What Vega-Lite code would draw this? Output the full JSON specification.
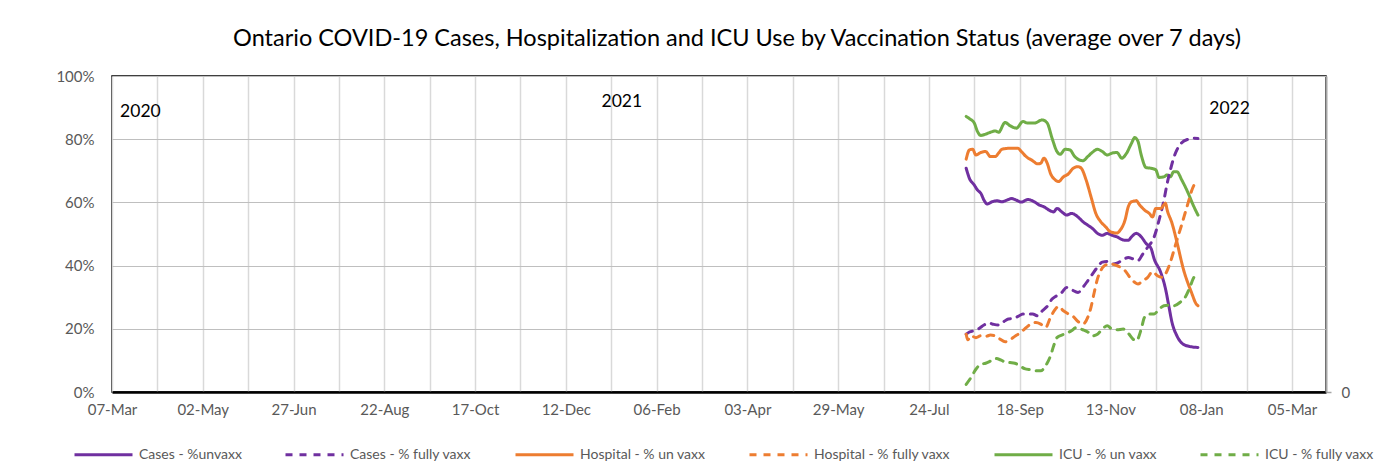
{
  "$schema": "https://vega.github.io/schema/vega-lite/v6.json",
  "width": 1214,
  "height": 316,
  "autosize": {"type": "none"},
  "padding": {"left": 112, "top": 76, "right": 59, "bottom": 79},
  "background": "white",
  "config": {
    "font": "Lato",
    "view": {"stroke": "#000000", "strokeWidth": 1.5},
    "axis": {"labelFont": "Lato", "labelColor": "#595959", "labelFontSize": 15, "title": null}
  },
  "title": {
    "text": "Ontario COVID-19 Cases, Hospitalization and ICU Use by Vaccination Status (average over 7 days)",
    "font": "Lato", "fontSize": 23.5, "fontWeight": "normal", "color": "#000000",
    "anchor": "middle", "frame": "group", "dx": 18, "offset": 19
  },
  "datasets": {
    "lines": [
      {"s":"ICU - % un vaxx","d":"2021-08-16","v":87.2},{"s":"ICU - % un vaxx","d":"2021-08-18","v":86.5},{"s":"ICU - % un vaxx","d":"2021-08-21","v":85.1},{"s":"ICU - % un vaxx","d":"2021-08-23","v":82.4},{"s":"ICU - % un vaxx","d":"2021-08-25","v":81.2},{"s":"ICU - % un vaxx","d":"2021-08-28","v":81.6},{"s":"ICU - % un vaxx","d":"2021-08-31","v":82.2},{"s":"ICU - % un vaxx","d":"2021-09-03","v":82.6},{"s":"ICU - % un vaxx","d":"2021-09-05","v":82.2},{"s":"ICU - % un vaxx","d":"2021-09-09","v":85.3},{"s":"ICU - % un vaxx","d":"2021-09-12","v":84.3},{"s":"ICU - % un vaxx","d":"2021-09-16","v":83.5},{"s":"ICU - % un vaxx","d":"2021-09-20","v":85.6},{"s":"ICU - % un vaxx","d":"2021-09-23","v":85.1},{"s":"ICU - % un vaxx","d":"2021-09-27","v":85.1},{"s":"ICU - % un vaxx","d":"2021-10-02","v":86.1},{"s":"ICU - % un vaxx","d":"2021-10-05","v":85.1},{"s":"ICU - % un vaxx","d":"2021-10-08","v":80.3},{"s":"ICU - % un vaxx","d":"2021-10-11","v":76.1},{"s":"ICU - % un vaxx","d":"2021-10-13","v":75.2},{"s":"ICU - % un vaxx","d":"2021-10-16","v":76.8},{"s":"ICU - % un vaxx","d":"2021-10-19","v":76.6},{"s":"ICU - % un vaxx","d":"2021-10-22","v":74.5},{"s":"ICU - % un vaxx","d":"2021-10-25","v":73.4},{"s":"ICU - % un vaxx","d":"2021-10-27","v":73.2},{"s":"ICU - % un vaxx","d":"2021-10-30","v":74.5},{"s":"ICU - % un vaxx","d":"2021-11-02","v":75.9},{"s":"ICU - % un vaxx","d":"2021-11-05","v":76.8},{"s":"ICU - % un vaxx","d":"2021-11-08","v":76.1},{"s":"ICU - % un vaxx","d":"2021-11-11","v":75},{"s":"ICU - % un vaxx","d":"2021-11-14","v":75.6},{"s":"ICU - % un vaxx","d":"2021-11-17","v":75.8},{"s":"ICU - % un vaxx","d":"2021-11-20","v":74},{"s":"ICU - % un vaxx","d":"2021-11-23","v":75.6},{"s":"ICU - % un vaxx","d":"2021-11-26","v":78.7},{"s":"ICU - % un vaxx","d":"2021-11-28","v":80.5},{"s":"ICU - % un vaxx","d":"2021-11-30","v":79.3},{"s":"ICU - % un vaxx","d":"2021-12-02","v":75},{"s":"ICU - % un vaxx","d":"2021-12-05","v":71},{"s":"ICU - % un vaxx","d":"2021-12-08","v":70.8},{"s":"ICU - % un vaxx","d":"2021-12-11","v":70.3},{"s":"ICU - % un vaxx","d":"2021-12-13","v":67.9},{"s":"ICU - % un vaxx","d":"2021-12-16","v":68.1},{"s":"ICU - % un vaxx","d":"2021-12-18","v":68.7},{"s":"ICU - % un vaxx","d":"2021-12-20","v":68.1},{"s":"ICU - % un vaxx","d":"2021-12-22","v":69.7},{"s":"ICU - % un vaxx","d":"2021-12-24","v":69.7},{"s":"ICU - % un vaxx","d":"2021-12-27","v":67.1},{"s":"ICU - % un vaxx","d":"2021-12-31","v":62.9},{"s":"ICU - % un vaxx","d":"2022-01-03","v":59.2},{"s":"ICU - % un vaxx","d":"2022-01-06","v":56},

      {"s":"Cases - %unvaxx","d":"2021-08-16","v":70.8},{"s":"Cases - %unvaxx","d":"2021-08-18","v":67.6},{"s":"Cases - %unvaxx","d":"2021-08-21","v":65.5},{"s":"Cases - %unvaxx","d":"2021-08-23","v":63.9},{"s":"Cases - %unvaxx","d":"2021-08-25","v":62.9},{"s":"Cases - %unvaxx","d":"2021-08-27","v":60.7},{"s":"Cases - %unvaxx","d":"2021-08-29","v":59.5},{"s":"Cases - %unvaxx","d":"2021-09-01","v":60.2},{"s":"Cases - %unvaxx","d":"2021-09-04","v":60.5},{"s":"Cases - %unvaxx","d":"2021-09-07","v":60.2},{"s":"Cases - %unvaxx","d":"2021-09-10","v":60.7},{"s":"Cases - %unvaxx","d":"2021-09-13","v":61.2},{"s":"Cases - %unvaxx","d":"2021-09-16","v":60.7},{"s":"Cases - %unvaxx","d":"2021-09-19","v":60.1},{"s":"Cases - %unvaxx","d":"2021-09-23","v":60.9},{"s":"Cases - %unvaxx","d":"2021-09-27","v":60.2},{"s":"Cases - %unvaxx","d":"2021-09-30","v":59.2},{"s":"Cases - %unvaxx","d":"2021-10-03","v":58.6},{"s":"Cases - %unvaxx","d":"2021-10-06","v":57.6},{"s":"Cases - %unvaxx","d":"2021-10-09","v":57},{"s":"Cases - %unvaxx","d":"2021-10-11","v":58.1},{"s":"Cases - %unvaxx","d":"2021-10-14","v":57},{"s":"Cases - %unvaxx","d":"2021-10-17","v":56},{"s":"Cases - %unvaxx","d":"2021-10-20","v":56.5},{"s":"Cases - %unvaxx","d":"2021-10-25","v":54.9},{"s":"Cases - %unvaxx","d":"2021-10-27","v":53.9},{"s":"Cases - %unvaxx","d":"2021-10-30","v":52.8},{"s":"Cases - %unvaxx","d":"2021-11-02","v":51.7},{"s":"Cases - %unvaxx","d":"2021-11-05","v":50.2},{"s":"Cases - %unvaxx","d":"2021-11-08","v":49.6},{"s":"Cases - %unvaxx","d":"2021-11-11","v":50.2},{"s":"Cases - %unvaxx","d":"2021-11-14","v":49.6},{"s":"Cases - %unvaxx","d":"2021-11-17","v":49.1},{"s":"Cases - %unvaxx","d":"2021-11-21","v":48.1},{"s":"Cases - %unvaxx","d":"2021-11-24","v":48},{"s":"Cases - %unvaxx","d":"2021-11-26","v":49.1},{"s":"Cases - %unvaxx","d":"2021-11-29","v":50.2},{"s":"Cases - %unvaxx","d":"2021-12-02","v":49.1},{"s":"Cases - %unvaxx","d":"2021-12-05","v":47},{"s":"Cases - %unvaxx","d":"2021-12-08","v":45.5},{"s":"Cases - %unvaxx","d":"2021-12-10","v":42.1},{"s":"Cases - %unvaxx","d":"2021-12-14","v":37.9},{"s":"Cases - %unvaxx","d":"2021-12-17","v":32.6},{"s":"Cases - %unvaxx","d":"2021-12-19","v":27.3},{"s":"Cases - %unvaxx","d":"2021-12-21","v":22},{"s":"Cases - %unvaxx","d":"2021-12-24","v":17.8},{"s":"Cases - %unvaxx","d":"2021-12-28","v":15.1},{"s":"Cases - %unvaxx","d":"2022-01-02","v":14.3},{"s":"Cases - %unvaxx","d":"2022-01-06","v":14.1},

      {"s":"Cases - % fully vaxx","d":"2021-08-16","v":18.3},{"s":"Cases - % fully vaxx","d":"2021-08-18","v":19},{"s":"Cases - % fully vaxx","d":"2021-08-21","v":19.4},{"s":"Cases - % fully vaxx","d":"2021-08-24","v":20.1},{"s":"Cases - % fully vaxx","d":"2021-08-27","v":21.2},{"s":"Cases - % fully vaxx","d":"2021-08-30","v":21.8},{"s":"Cases - % fully vaxx","d":"2021-09-02","v":21.4},{"s":"Cases - % fully vaxx","d":"2021-09-05","v":21.2},{"s":"Cases - % fully vaxx","d":"2021-09-08","v":22.2},{"s":"Cases - % fully vaxx","d":"2021-09-11","v":23.1},{"s":"Cases - % fully vaxx","d":"2021-09-14","v":23.3},{"s":"Cases - % fully vaxx","d":"2021-09-17","v":23.9},{"s":"Cases - % fully vaxx","d":"2021-09-20","v":24.7},{"s":"Cases - % fully vaxx","d":"2021-09-23","v":24.7},{"s":"Cases - % fully vaxx","d":"2021-09-26","v":24.7},{"s":"Cases - % fully vaxx","d":"2021-09-29","v":24.1},{"s":"Cases - % fully vaxx","d":"2021-10-02","v":25.7},{"s":"Cases - % fully vaxx","d":"2021-10-05","v":27.1},{"s":"Cases - % fully vaxx","d":"2021-10-08","v":29.4},{"s":"Cases - % fully vaxx","d":"2021-10-11","v":30.5},{"s":"Cases - % fully vaxx","d":"2021-10-14","v":31.5},{"s":"Cases - % fully vaxx","d":"2021-10-17","v":33.1},{"s":"Cases - % fully vaxx","d":"2021-10-20","v":32.4},{"s":"Cases - % fully vaxx","d":"2021-10-24","v":31.5},{"s":"Cases - % fully vaxx","d":"2021-10-27","v":33.1},{"s":"Cases - % fully vaxx","d":"2021-10-30","v":35.2},{"s":"Cases - % fully vaxx","d":"2021-11-02","v":37.4},{"s":"Cases - % fully vaxx","d":"2021-11-05","v":39.5},{"s":"Cases - % fully vaxx","d":"2021-11-08","v":41.1},{"s":"Cases - % fully vaxx","d":"2021-11-11","v":41.3},{"s":"Cases - % fully vaxx","d":"2021-11-14","v":40.5},{"s":"Cases - % fully vaxx","d":"2021-11-17","v":40.8},{"s":"Cases - % fully vaxx","d":"2021-11-21","v":41.9},{"s":"Cases - % fully vaxx","d":"2021-11-24","v":42.6},{"s":"Cases - % fully vaxx","d":"2021-11-27","v":42.1},{"s":"Cases - % fully vaxx","d":"2021-11-30","v":41.6},{"s":"Cases - % fully vaxx","d":"2021-12-03","v":43.7},{"s":"Cases - % fully vaxx","d":"2021-12-06","v":45.8},{"s":"Cases - % fully vaxx","d":"2021-12-10","v":49.1},{"s":"Cases - % fully vaxx","d":"2021-12-13","v":54.4},{"s":"Cases - % fully vaxx","d":"2021-12-16","v":60.7},{"s":"Cases - % fully vaxx","d":"2021-12-18","v":66},{"s":"Cases - % fully vaxx","d":"2021-12-20","v":70.3},{"s":"Cases - % fully vaxx","d":"2021-12-22","v":74},{"s":"Cases - % fully vaxx","d":"2021-12-24","v":76.6},{"s":"Cases - % fully vaxx","d":"2021-12-27","v":78.9},{"s":"Cases - % fully vaxx","d":"2021-12-31","v":80},{"s":"Cases - % fully vaxx","d":"2022-01-03","v":80.3},{"s":"Cases - % fully vaxx","d":"2022-01-06","v":80.2},

      {"s":"Hospital - % un vaxx","d":"2021-08-16","v":73.7},{"s":"Hospital - % un vaxx","d":"2021-08-18","v":76.6},{"s":"Hospital - % un vaxx","d":"2021-08-20","v":76.8},{"s":"Hospital - % un vaxx","d":"2021-08-22","v":75},{"s":"Hospital - % un vaxx","d":"2021-08-25","v":75.8},{"s":"Hospital - % un vaxx","d":"2021-08-28","v":76.1},{"s":"Hospital - % un vaxx","d":"2021-08-31","v":74.5},{"s":"Hospital - % un vaxx","d":"2021-09-03","v":74.5},{"s":"Hospital - % un vaxx","d":"2021-09-05","v":75.6},{"s":"Hospital - % un vaxx","d":"2021-09-07","v":76.8},{"s":"Hospital - % un vaxx","d":"2021-09-11","v":77.1},{"s":"Hospital - % un vaxx","d":"2021-09-17","v":77.1},{"s":"Hospital - % un vaxx","d":"2021-09-19","v":76.1},{"s":"Hospital - % un vaxx","d":"2021-09-22","v":74.5},{"s":"Hospital - % un vaxx","d":"2021-09-26","v":73.2},{"s":"Hospital - % un vaxx","d":"2021-09-29","v":72.2},{"s":"Hospital - % un vaxx","d":"2021-10-01","v":72.4},{"s":"Hospital - % un vaxx","d":"2021-10-03","v":74},{"s":"Hospital - % un vaxx","d":"2021-10-05","v":72.4},{"s":"Hospital - % un vaxx","d":"2021-10-07","v":69.2},{"s":"Hospital - % un vaxx","d":"2021-10-10","v":67.1},{"s":"Hospital - % un vaxx","d":"2021-10-12","v":66.6},{"s":"Hospital - % un vaxx","d":"2021-10-15","v":68.1},{"s":"Hospital - % un vaxx","d":"2021-10-18","v":69},{"s":"Hospital - % un vaxx","d":"2021-10-21","v":70.8},{"s":"Hospital - % un vaxx","d":"2021-10-24","v":71.3},{"s":"Hospital - % un vaxx","d":"2021-10-26","v":70.8},{"s":"Hospital - % un vaxx","d":"2021-10-29","v":67.1},{"s":"Hospital - % un vaxx","d":"2021-11-01","v":61.8},{"s":"Hospital - % un vaxx","d":"2021-11-04","v":56.5},{"s":"Hospital - % un vaxx","d":"2021-11-07","v":53.9},{"s":"Hospital - % un vaxx","d":"2021-11-10","v":52.3},{"s":"Hospital - % un vaxx","d":"2021-11-13","v":50.7},{"s":"Hospital - % un vaxx","d":"2021-11-17","v":50.3},{"s":"Hospital - % un vaxx","d":"2021-11-19","v":51.2},{"s":"Hospital - % un vaxx","d":"2021-11-22","v":54.4},{"s":"Hospital - % un vaxx","d":"2021-11-24","v":58.6},{"s":"Hospital - % un vaxx","d":"2021-11-26","v":60.2},{"s":"Hospital - % un vaxx","d":"2021-11-29","v":60.5},{"s":"Hospital - % un vaxx","d":"2021-12-01","v":59.2},{"s":"Hospital - % un vaxx","d":"2021-12-04","v":57.6},{"s":"Hospital - % un vaxx","d":"2021-12-07","v":56.5},{"s":"Hospital - % un vaxx","d":"2021-12-09","v":55.4},{"s":"Hospital - % un vaxx","d":"2021-12-11","v":58.1},{"s":"Hospital - % un vaxx","d":"2021-12-14","v":58.1},{"s":"Hospital - % un vaxx","d":"2021-12-17","v":59.7},{"s":"Hospital - % un vaxx","d":"2021-12-18","v":57.6},{"s":"Hospital - % un vaxx","d":"2021-12-21","v":53.4},{"s":"Hospital - % un vaxx","d":"2021-12-24","v":47.5},{"s":"Hospital - % un vaxx","d":"2021-12-28","v":38.9},{"s":"Hospital - % un vaxx","d":"2022-01-02","v":31.5},{"s":"Hospital - % un vaxx","d":"2022-01-05","v":27.8},{"s":"Hospital - % un vaxx","d":"2022-01-06","v":27.3},

      {"s":"Hospital - % fully vaxx","d":"2021-08-16","v":18.3},{"s":"Hospital - % fully vaxx","d":"2021-08-17","v":16.5},{"s":"Hospital - % fully vaxx","d":"2021-08-19","v":17.8},{"s":"Hospital - % fully vaxx","d":"2021-08-22","v":17.2},{"s":"Hospital - % fully vaxx","d":"2021-08-25","v":17.8},{"s":"Hospital - % fully vaxx","d":"2021-08-28","v":17.6},{"s":"Hospital - % fully vaxx","d":"2021-08-31","v":18},{"s":"Hospital - % fully vaxx","d":"2021-09-03","v":17.8},{"s":"Hospital - % fully vaxx","d":"2021-09-06","v":16.7},{"s":"Hospital - % fully vaxx","d":"2021-09-09","v":15.9},{"s":"Hospital - % fully vaxx","d":"2021-09-12","v":16.5},{"s":"Hospital - % fully vaxx","d":"2021-09-15","v":17.6},{"s":"Hospital - % fully vaxx","d":"2021-09-18","v":18.6},{"s":"Hospital - % fully vaxx","d":"2021-09-21","v":19.9},{"s":"Hospital - % fully vaxx","d":"2021-09-24","v":21.2},{"s":"Hospital - % fully vaxx","d":"2021-09-28","v":22},{"s":"Hospital - % fully vaxx","d":"2021-10-01","v":21.5},{"s":"Hospital - % fully vaxx","d":"2021-10-04","v":20.4},{"s":"Hospital - % fully vaxx","d":"2021-10-07","v":23.6},{"s":"Hospital - % fully vaxx","d":"2021-10-10","v":26.2},{"s":"Hospital - % fully vaxx","d":"2021-10-12","v":27.1},{"s":"Hospital - % fully vaxx","d":"2021-10-15","v":25.7},{"s":"Hospital - % fully vaxx","d":"2021-10-18","v":24.7},{"s":"Hospital - % fully vaxx","d":"2021-10-21","v":23.9},{"s":"Hospital - % fully vaxx","d":"2021-10-24","v":22.3},{"s":"Hospital - % fully vaxx","d":"2021-10-27","v":21.5},{"s":"Hospital - % fully vaxx","d":"2021-10-30","v":23.6},{"s":"Hospital - % fully vaxx","d":"2021-11-01","v":26.8},{"s":"Hospital - % fully vaxx","d":"2021-11-03","v":31.5},{"s":"Hospital - % fully vaxx","d":"2021-11-05","v":35.8},{"s":"Hospital - % fully vaxx","d":"2021-11-07","v":38.4},{"s":"Hospital - % fully vaxx","d":"2021-11-09","v":39.8},{"s":"Hospital - % fully vaxx","d":"2021-11-12","v":40.5},{"s":"Hospital - % fully vaxx","d":"2021-11-16","v":40.2},{"s":"Hospital - % fully vaxx","d":"2021-11-19","v":39.5},{"s":"Hospital - % fully vaxx","d":"2021-11-22","v":38.4},{"s":"Hospital - % fully vaxx","d":"2021-11-25","v":36.3},{"s":"Hospital - % fully vaxx","d":"2021-11-28","v":34.7},{"s":"Hospital - % fully vaxx","d":"2021-11-30","v":34.2},{"s":"Hospital - % fully vaxx","d":"2021-12-03","v":35.2},{"s":"Hospital - % fully vaxx","d":"2021-12-06","v":36.3},{"s":"Hospital - % fully vaxx","d":"2021-12-09","v":38.1},{"s":"Hospital - % fully vaxx","d":"2021-12-12","v":36.8},{"s":"Hospital - % fully vaxx","d":"2021-12-15","v":36.3},{"s":"Hospital - % fully vaxx","d":"2021-12-17","v":37.4},{"s":"Hospital - % fully vaxx","d":"2021-12-20","v":41.1},{"s":"Hospital - % fully vaxx","d":"2021-12-22","v":44.5},{"s":"Hospital - % fully vaxx","d":"2021-12-24","v":48},{"s":"Hospital - % fully vaxx","d":"2021-12-27","v":53},{"s":"Hospital - % fully vaxx","d":"2021-12-29","v":56.5},{"s":"Hospital - % fully vaxx","d":"2021-12-31","v":60},{"s":"Hospital - % fully vaxx","d":"2022-01-02","v":63.5},{"s":"Hospital - % fully vaxx","d":"2022-01-04","v":65.8},{"s":"Hospital - % fully vaxx","d":"2022-01-06","v":66.5},

      {"s":"ICU - % fully vaxx","d":"2021-08-16","v":2.4},{"s":"ICU - % fully vaxx","d":"2021-08-19","v":4.6},{"s":"ICU - % fully vaxx","d":"2021-08-22","v":7.2},{"s":"ICU - % fully vaxx","d":"2021-08-25","v":8.8},{"s":"ICU - % fully vaxx","d":"2021-08-28","v":9.1},{"s":"ICU - % fully vaxx","d":"2021-08-31","v":9.8},{"s":"ICU - % fully vaxx","d":"2021-09-03","v":10.6},{"s":"ICU - % fully vaxx","d":"2021-09-06","v":10.2},{"s":"ICU - % fully vaxx","d":"2021-09-09","v":9.5},{"s":"ICU - % fully vaxx","d":"2021-09-12","v":9.3},{"s":"ICU - % fully vaxx","d":"2021-09-15","v":9.1},{"s":"ICU - % fully vaxx","d":"2021-09-18","v":8.3},{"s":"ICU - % fully vaxx","d":"2021-09-21","v":7.4},{"s":"ICU - % fully vaxx","d":"2021-09-25","v":7},{"s":"ICU - % fully vaxx","d":"2021-09-28","v":6.7},{"s":"ICU - % fully vaxx","d":"2021-10-01","v":6.7},{"s":"ICU - % fully vaxx","d":"2021-10-04","v":8.3},{"s":"ICU - % fully vaxx","d":"2021-10-07","v":11.4},{"s":"ICU - % fully vaxx","d":"2021-10-09","v":14.6},{"s":"ICU - % fully vaxx","d":"2021-10-11","v":17.2},{"s":"ICU - % fully vaxx","d":"2021-10-14","v":18},{"s":"ICU - % fully vaxx","d":"2021-10-17","v":18.6},{"s":"ICU - % fully vaxx","d":"2021-10-20","v":19.4},{"s":"ICU - % fully vaxx","d":"2021-10-23","v":20.4},{"s":"ICU - % fully vaxx","d":"2021-10-27","v":19.7},{"s":"ICU - % fully vaxx","d":"2021-10-30","v":19},{"s":"ICU - % fully vaxx","d":"2021-11-02","v":17.8},{"s":"ICU - % fully vaxx","d":"2021-11-05","v":18.3},{"s":"ICU - % fully vaxx","d":"2021-11-08","v":19.9},{"s":"ICU - % fully vaxx","d":"2021-11-11","v":21},{"s":"ICU - % fully vaxx","d":"2021-11-14","v":19.9},{"s":"ICU - % fully vaxx","d":"2021-11-17","v":19.7},{"s":"ICU - % fully vaxx","d":"2021-11-21","v":19.9},{"s":"ICU - % fully vaxx","d":"2021-11-24","v":18.6},{"s":"ICU - % fully vaxx","d":"2021-11-27","v":16.7},{"s":"ICU - % fully vaxx","d":"2021-11-29","v":16.2},{"s":"ICU - % fully vaxx","d":"2021-12-02","v":19.9},{"s":"ICU - % fully vaxx","d":"2021-12-04","v":23.6},{"s":"ICU - % fully vaxx","d":"2021-12-07","v":24.7},{"s":"ICU - % fully vaxx","d":"2021-12-10","v":24.7},{"s":"ICU - % fully vaxx","d":"2021-12-13","v":26.2},{"s":"ICU - % fully vaxx","d":"2021-12-16","v":27.3},{"s":"ICU - % fully vaxx","d":"2021-12-19","v":27.5},{"s":"ICU - % fully vaxx","d":"2021-12-22","v":27.3},{"s":"ICU - % fully vaxx","d":"2021-12-26","v":28.4},{"s":"ICU - % fully vaxx","d":"2021-12-29","v":29.9},{"s":"ICU - % fully vaxx","d":"2022-01-01","v":33.1},{"s":"ICU - % fully vaxx","d":"2022-01-03","v":35.8},{"s":"ICU - % fully vaxx","d":"2022-01-05","v":37.4},{"s":"ICU - % fully vaxx","d":"2022-01-06","v":37.9}
    ],
    "years": [
      {"t":"2020","d":"2020-03-12","v":88.6},
      {"t":"2021","d":"2021-01-03","v":91.8},
      {"t":"2022","d":"2022-01-13","v":89.6}
    ]
  },
  "layer": [
    {
      "data": {"name": "lines"},
      "mark": {"type": "line", "strokeWidth": 3, "interpolate": "monotone", "strokeCap": "round"},
      "encoding": {
        "x": {
          "field": "d", "type": "temporal",
          "scale": {"type": "utc", "domain": [{"year": 2020, "month": 3, "date": 7, "utc": true}, {"year": 2022, "month": 3, "date": 26, "utc": true}]},
          "axis": {
            "values": [
              {"year":2020,"month":3,"date":7,"utc":true},{"year":2020,"month":4,"date":4,"utc":true},{"year":2020,"month":5,"date":2,"utc":true},{"year":2020,"month":5,"date":30,"utc":true},{"year":2020,"month":6,"date":27,"utc":true},{"year":2020,"month":7,"date":25,"utc":true},{"year":2020,"month":8,"date":22,"utc":true},{"year":2020,"month":9,"date":19,"utc":true},{"year":2020,"month":10,"date":17,"utc":true},{"year":2020,"month":11,"date":14,"utc":true},{"year":2020,"month":12,"date":12,"utc":true},{"year":2021,"month":1,"date":9,"utc":true},{"year":2021,"month":2,"date":6,"utc":true},{"year":2021,"month":3,"date":6,"utc":true},{"year":2021,"month":4,"date":3,"utc":true},{"year":2021,"month":5,"date":1,"utc":true},{"year":2021,"month":5,"date":29,"utc":true},{"year":2021,"month":6,"date":26,"utc":true},{"year":2021,"month":7,"date":24,"utc":true},{"year":2021,"month":8,"date":21,"utc":true},{"year":2021,"month":9,"date":18,"utc":true},{"year":2021,"month":10,"date":16,"utc":true},{"year":2021,"month":11,"date":13,"utc":true},{"year":2021,"month":12,"date":11,"utc":true},{"year":2022,"month":1,"date":8,"utc":true},{"year":2022,"month":2,"date":5,"utc":true},{"year":2022,"month":3,"date":5,"utc":true}
            ],
            "labelExpr": "indexof(['07-Mar','02-May','27-Jun','22-Aug','17-Oct','12-Dec','06-Feb','03-Apr','29-May','24-Jul','18-Sep','13-Nov','08-Jan','05-Mar'], utcFormat(datum.value, '%d-%b')) >= 0 ? utcFormat(datum.value, '%d-%b') : ''",
            "labelOverlap": false, "labelFlush": false,
            "ticks": false, "tickSize": 0, "labelPadding": 10,
            "grid": true, "gridColor": "#d9d9d9", "gridWidth": 1.5,
            "domain": true, "domainColor": "#000000", "domainWidth": 2.5
          }
        },
        "y": {
          "field": "v", "type": "quantitative",
          "scale": {"domain": [0, 100], "nice": false},
          "axis": {
            "values": [0, 20, 40, 60, 80, 100],
            "labelExpr": "datum.value + '%'",
            "ticks": false, "tickSize": 0, "labelPadding": 18,
            "grid": true, "gridColor": "#bfbfbf", "gridWidth": 1,
            "domain": false
          }
        },
        "color": {
          "field": "s", "type": "nominal",
          "scale": {
            "domain": ["Cases - %unvaxx", "Cases - % fully vaxx", "Hospital - % un vaxx", "Hospital - % fully vaxx", "ICU - % un vaxx", "ICU - % fully vaxx"],
            "range": ["#7030A0", "#7030A0", "#ED7D31", "#ED7D31", "#70AD47", "#70AD47"]
          },
          "legend": {
            "title": null, "orient": "none", "legendX": -39, "legendY": 348,
            "direction": "horizontal", "columns": 6, "padding": 0,
            "symbolType": "stroke", "symbolSize": 3364, "symbolStrokeWidth": 3,
            "labelFont": "Lato", "labelFontSize": 14, "labelColor": "#595959",
            "labelOffset": 5, "columnPadding": 37
          }
        },
        "strokeDash": {
          "field": "s", "type": "nominal",
          "scale": {
            "domain": ["Cases - %unvaxx", "Cases - % fully vaxx", "Hospital - % un vaxx", "Hospital - % fully vaxx", "ICU - % un vaxx", "ICU - % fully vaxx"],
            "range": [[1, 0], [7, 7], [1, 0], [7, 7], [1, 0], [7, 7]]
          },
          "legend": {
            "title": null, "orient": "none", "legendX": -39, "legendY": 348,
            "direction": "horizontal", "columns": 6, "padding": 0,
            "symbolType": "stroke", "symbolSize": 3364, "symbolStrokeWidth": 3,
            "labelFont": "Lato", "labelFontSize": 14, "labelColor": "#595959",
            "labelOffset": 5, "columnPadding": 37
          }
        }
      }
    },
    {
      "data": {"name": "years"},
      "mark": {"type": "text", "align": "left", "baseline": "middle", "font": "Lato", "fontSize": 17.5, "color": "#000000"},
      "encoding": {
        "x": {"field": "d", "type": "temporal"},
        "y": {
          "field": "v", "type": "quantitative",
          "axis": {
            "orient": "right", "values": [0], "labelExpr": "'0'",
            "ticks": true, "tickSize": 5, "tickColor": "#a6a6a6", "tickWidth": 1.5,
            "labelPadding": 10, "grid": false,
            "domain": true, "domainColor": "#a6a6a6", "domainWidth": 2
          }
        },
        "text": {"field": "t", "type": "nominal"}
      }
    }
  ],
  "resolve": {"axis": {"y": "independent"}}
}
